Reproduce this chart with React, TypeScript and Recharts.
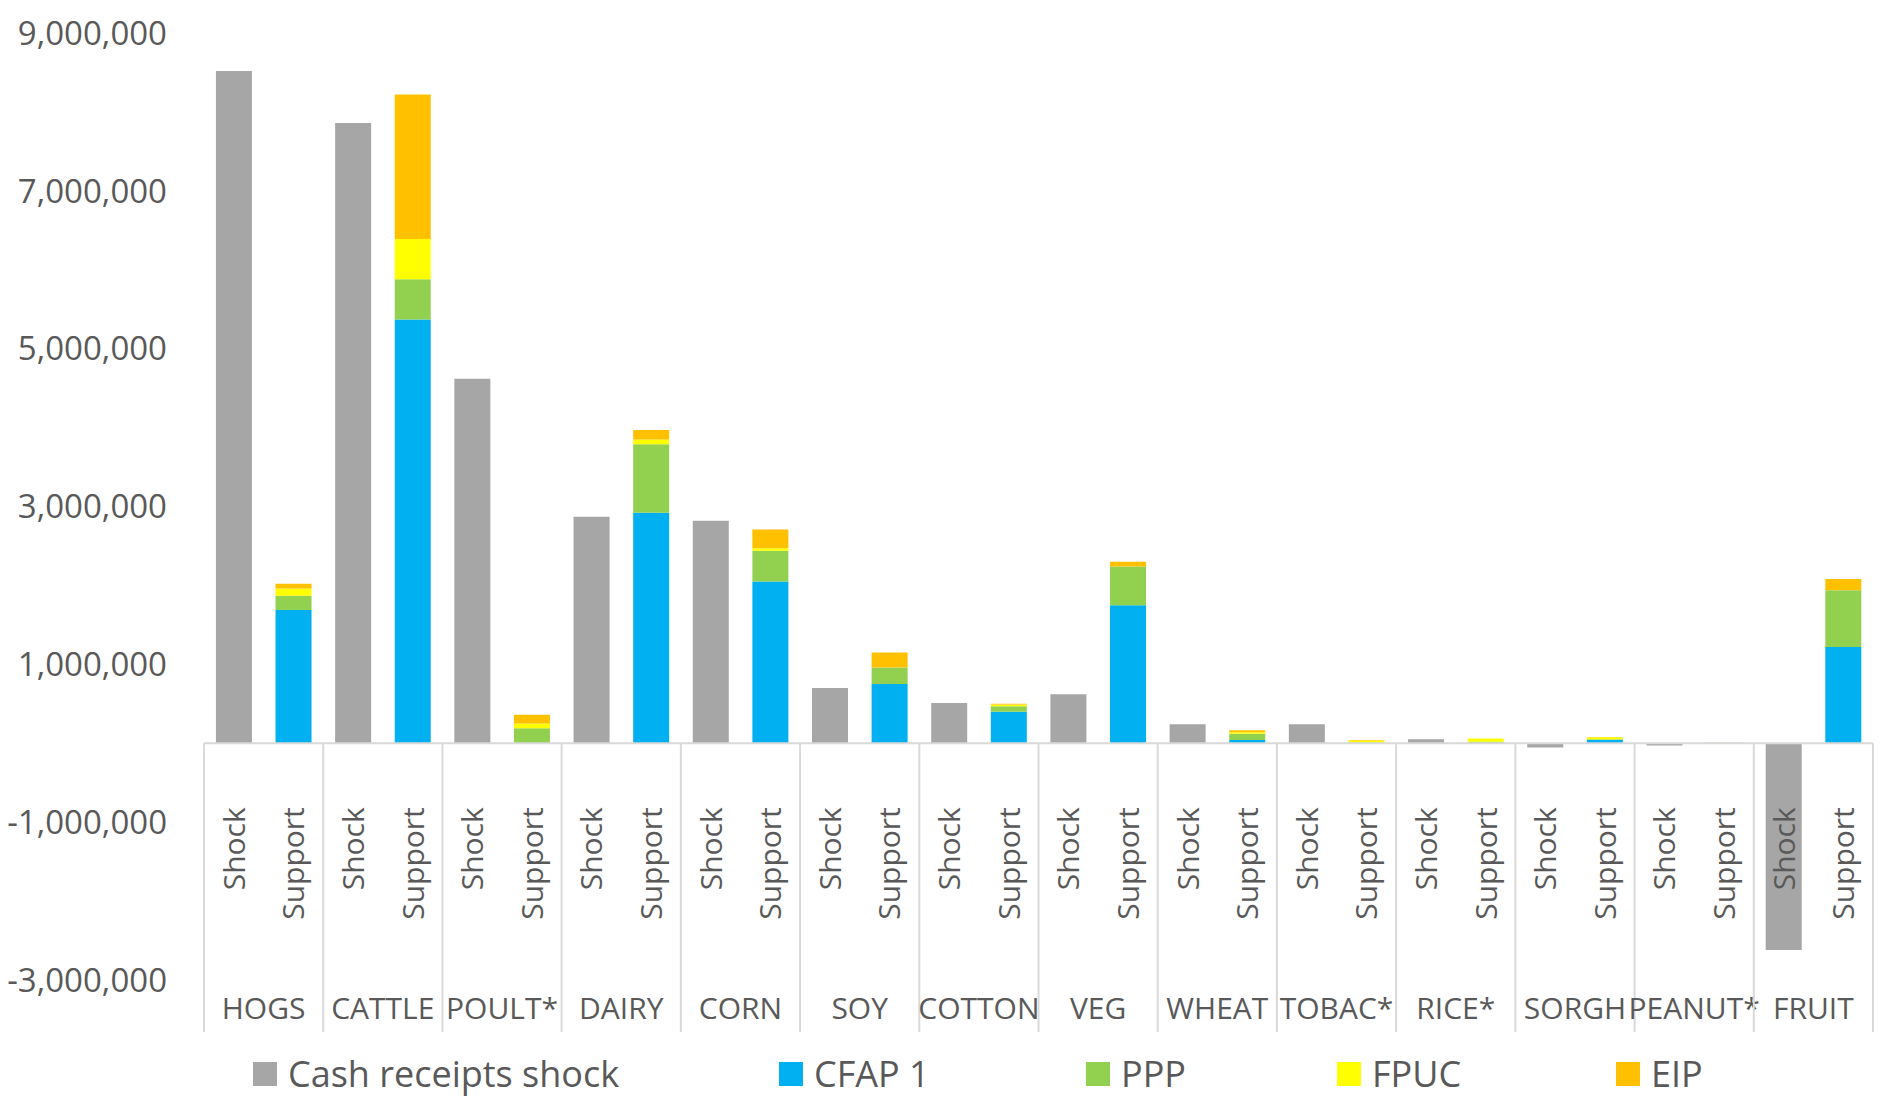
import React from 'react';
import { Bar, BarChart, ReferenceLine, XAxis, YAxis } from 'recharts';

const groups = ['HOGS', 'CATTLE', 'POULT*', 'DAIRY', 'CORN', 'SOY', 'COTTON', 'VEG', 'WHEAT', 'TOBAC*', 'RICE*', 'SORGH', 'PEANUT*', 'FRUIT'];
const kinds = ['Shock', 'Support'];

// values (dollars)
const shock = [8520000, 7860000, 4620000, 2870000, 2820000, 700000, 510000, 620000, 240000, 240000, 50000, -55000, -30000, -2620000];
const cfap1 = [1690000, 5370000, 0, 2920000, 2050000, 750000, 400000, 1750000, 40000, 0, 0, 40000, 0, 1220000];
const ppp = [180000, 510000, 190000, 870000, 390000, 210000, 70000, 490000, 80000, 10000, 20000, 10000, 5000, 720000];
const fpuc = [90000, 510000, 60000, 60000, 30000, 0, 20000, 0, 20000, 25000, 40000, 25000, 0, 0];
const eip = [60000, 1830000, 110000, 120000, 240000, 190000, 10000, 60000, 25000, 5000, 0, 5000, 0, 140000];

const yTicks = [-3000000, -1000000, 1000000, 3000000, 5000000, 7000000, 9000000];
const Y_MIN = -3000000;
const Y_MAX = 9000000;

const series = [
    { key: 'shock', name: 'Cash receipts shock', color: '#A6A6A6' },
    { key: 'cfap1', name: 'CFAP 1', color: '#00B0F0' },
    { key: 'ppp', name: 'PPP', color: '#92D050' },
    { key: 'fpuc', name: 'FPUC', color: '#FFFF00' },
    { key: 'eip', name: 'EIP', color: '#FFC000' },
];

const rows = groups.flatMap((g, i) =>
    kinds.map((k) => ({
        id: `${g}|${k}`,
        group: g,
        kind: k,
        shock: k === 'Shock' ? shock[i] : 0,
        cfap1: k === 'Support' ? cfap1[i] : 0,
        ppp: k === 'Support' ? ppp[i] : 0,
        fpuc: k === 'Support' ? fpuc[i] : 0,
        eip: k === 'Support' ? eip[i] : 0,
    }))
);

const W = 1883;
const H = 1096;
const MARGIN = { top: 33, right: 10, bottom: 86, left: 0 };
const Y_AXIS_W = 204;
const X_AXIS_H = 30;
const PLOT_H = H - MARGIN.top - MARGIN.bottom - X_AXIS_H;
const PLOT_W = W - MARGIN.left - MARGIN.right - Y_AXIS_W;
const ZERO_Y = MARGIN.top + (PLOT_H * Y_MAX) / (Y_MAX - Y_MIN);
const BAND = PLOT_W / rows.length;
const LABEL_BOTTOM = 1032;

// legend item left edges (layout only)
const LEGEND_X = [253, 779, 1086, 1337, 1616];

const FONT = "'Open Sans', sans-serif";
const TEXT = '#595959';
const GRID = '#D9D9D9';

const CategoryTick = (props: any) => {
    const { x, payload } = props;
    const row = rows[payload.index];
    if (!row) return null;
    const isShock = row.kind === 'Shock';
    const isLast = payload.index === rows.length - 1;
    return (
        <g>
            <text
                transform={`translate(${x + 11}, ${ZERO_Y + 64}) rotate(-90)`}
                textAnchor="end"
                fill={TEXT}
                fontSize={30}
                fontFamily={FONT}
            >
                {row.kind}
            </text>
            {isShock && (
                <>
                    <line x1={x - BAND / 2} x2={x - BAND / 2} y1={ZERO_Y} y2={LABEL_BOTTOM} stroke={GRID} strokeWidth={2} />
                    <text x={x + BAND / 2} y={1019} textAnchor="middle" fill={TEXT} fontSize={30} fontFamily={FONT}>
                        {row.group}
                    </text>
                </>
            )}
            {isLast && (
                <line x1={x + BAND / 2} x2={x + BAND / 2} y1={ZERO_Y} y2={LABEL_BOTTOM} stroke={GRID} strokeWidth={2} />
            )}
        </g>
    );
};

const App = () => {
    return (
        <div style={{ position: 'absolute', top: 0, left: 0, width: W, height: H, background: '#fff' }}>
            <BarChart
                width={W}
                height={H}
                data={rows}
                margin={MARGIN}
                stackOffset="sign"
                barCategoryGap="20%"
            >
                <YAxis
                    type="number"
                    domain={[Y_MIN, Y_MAX]}
                    ticks={yTicks}
                    width={Y_AXIS_W}
                    axisLine={false}
                    tickLine={false}
                    tickSize={0}
                    tickMargin={37}
                    allowDataOverflow
                    tickFormatter={(v: number) => v.toLocaleString('en-US')}
                    tick={{ fill: TEXT, fontSize: 33, fontFamily: FONT }}
                />
                <ReferenceLine y={0} stroke={GRID} strokeWidth={2} />
                {series.map((s) => (
                    <Bar key={s.key} dataKey={s.key} name={s.name} stackId="a" fill={s.color} isAnimationActive={false} />
                ))}
                <XAxis
                    dataKey="id"
                    interval={0}
                    height={X_AXIS_H}
                    axisLine={false}
                    tickLine={false}
                    tick={<CategoryTick />}
                />
            </BarChart>

            {/* legend */}
            {series.map((s, i) => (
                <div
                    key={s.key}
                    style={{
                        position: 'absolute',
                        top: 1056,
                        left: LEGEND_X[i],
                        display: 'flex',
                        alignItems: 'center',
                        fontFamily: FONT,
                        fontSize: 36,
                        lineHeight: '36px',
                        color: TEXT,
                        whiteSpace: 'nowrap',
                    }}
                >
                    <div style={{ width: 24, height: 24, background: s.color, marginRight: 11 }} />
                    <span>{s.name}</span>
                </div>
            ))}
        </div>
    );
};

export default App;
